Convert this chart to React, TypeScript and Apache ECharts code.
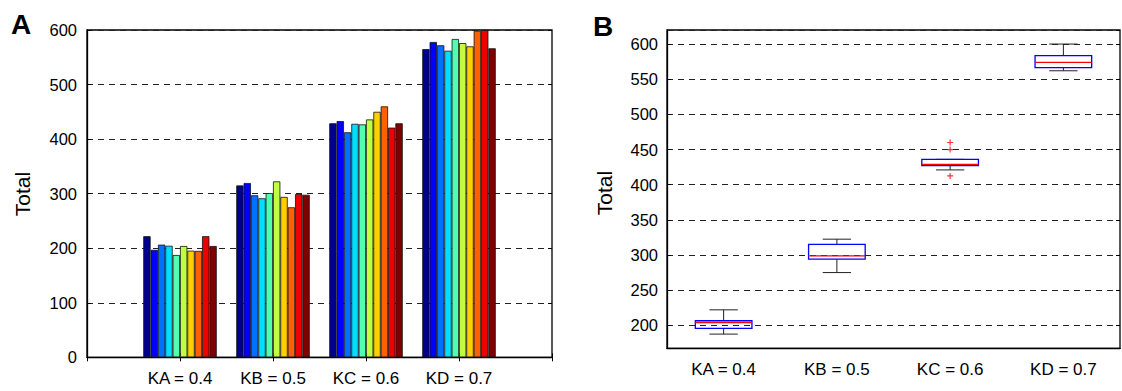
import React, { useEffect, useRef } from "react";
import * as echarts from "echarts";

// ---- data ----
const categories = ["KA = 0.4", "KB = 0.5", "KC = 0.6", "KD = 0.7"];
const KA = [222, 197, 206.5, 204.5, 187.5, 204, 195.5, 195, 222, 204];
const KB = [315, 319.5, 297, 291.5, 301, 322.5, 294, 275, 299.5, 298];
const KC = [429, 433, 412.5, 428, 427, 436, 450, 460, 421, 429];
const KD = [565, 578, 572, 562, 583.5, 576, 570, 598.5, 600, 566.5];
const groups = [KA, KB, KC, KD];
// jet colormap sampled for 10 bars
const barColors = [
  "#00008F", "#0000FF", "#0070FF", "#00DFFF", "#50FFAF",
  "#BFFF40", "#FFCF00", "#FF6000", "#EF0000", "#800000",
];

const FONT = "Liberation Sans, Arial, Helvetica, sans-serif";

// MATLAB-style percentile
function prctile(sorted: number[], p: number): number {
  const n = sorted.length;
  const pos = (n * p) / 100 + 0.5;
  if (pos <= 1) return sorted[0];
  if (pos >= n) return sorted[n - 1];
  const lo = Math.floor(pos);
  const f = pos - lo;
  return sorted[lo - 1] + f * (sorted[lo] - sorted[lo - 1]);
}

function boxStats(vals: number[]) {
  const s = [...vals].sort((a, b) => a - b);
  const q1 = prctile(s, 25);
  const med = prctile(s, 50);
  const q3 = prctile(s, 75);
  const iqr = q3 - q1;
  const lf = q1 - 1.5 * iqr;
  const uf = q3 + 1.5 * iqr;
  const inside = s.filter((v) => v >= lf && v <= uf);
  const outliers = s.filter((v) => v < lf || v > uf);
  return { low: inside[0], q1, med, q3, high: inside[inside.length - 1], outliers };
}

export default function App() {
  const ref = useRef<HTMLDivElement>(null);
  useEffect(() => {
    if (!ref.current) return;
    const chart = echarts.init(ref.current, undefined, { renderer: "svg" });

    const axisDataA = ["", ...categories, ""];
    const barSeries = barColors.map((col, i) => ({
      type: "bar",
      xAxisIndex: 0,
      yAxisIndex: 0,
      barGap: "0%",
      barCategoryGap: "21%",
      data: ["-", ...groups.map((g) => g[i]), "-"],
      itemStyle: { color: col, borderColor: "#111", borderWidth: 0.8 },
      emphasis: { disabled: true },
    }));

    const stats = groups.map(boxStats);
    const boxData = stats.map((s, i) => [i, s.low, s.q1, s.med, s.q3, s.high]);
    const outlierData: number[][] = [];
    stats.forEach((s, i) => s.outliers.forEach((v) => outlierData.push([i, v])));

    const lineStyle = { color: "#000", width: 1.3 };
    const labelStyle = { color: "#000", fontFamily: FONT };

    const option: any = {
      animation: false,
      textStyle: { fontFamily: FONT },
      grid: [
        { left: 87, top: 30, width: 465, height: 327.3, show: true, borderColor: "#000", borderWidth: 1.3, backgroundColor: "transparent" },
        { left: 667, top: 30, width: 453, height: 318.3, show: true, borderColor: "#000", borderWidth: 1.3, backgroundColor: "transparent" },
      ],
      xAxis: [
        {
          gridIndex: 0, type: "category", data: axisDataA, boundaryGap: false, position: "bottom",
          axisLine: { lineStyle },
          axisTick: { inside: true, length: 4, lineStyle: { color: "#000" } },
          axisLabel: { ...labelStyle, fontSize: 17, margin: 13, interval: 0 },
          splitLine: { show: false },
        },
        {
          gridIndex: 0, type: "category", data: axisDataA, boundaryGap: false, position: "top",
          axisLine: { show: false },
          axisTick: { inside: true, length: 4, lineStyle: { color: "#000" } },
          axisLabel: { show: false },
          splitLine: { show: false },
        },
        {
          gridIndex: 1, type: "category", data: categories, boundaryGap: true, position: "bottom",
          axisLine: { lineStyle },
          axisTick: { inside: true, length: 4, alignWithLabel: false, lineStyle: { color: "#000" } },
          axisLabel: { ...labelStyle, fontSize: 17, margin: 13, interval: 0 },
          splitLine: { show: false },
        },
        {
          gridIndex: 1, type: "category", data: categories, boundaryGap: true, position: "bottom",
          axisLine: { show: false },
          axisTick: { inside: true, length: 4, alignWithLabel: true, lineStyle: { color: "#000" } },
          axisLabel: { show: false },
          splitLine: { show: false },
        },
        {
          gridIndex: 1, type: "category", data: categories, boundaryGap: true, position: "top",
          axisLine: { show: false },
          axisTick: { inside: true, length: 4, alignWithLabel: false, lineStyle: { color: "#000" } },
          axisLabel: { show: false },
          splitLine: { show: false },
        },
        {
          gridIndex: 1, type: "category", data: categories, boundaryGap: true, position: "top",
          axisLine: { show: false },
          axisTick: { inside: true, length: 4, alignWithLabel: true, lineStyle: { color: "#000" } },
          axisLabel: { show: false },
          splitLine: { show: false },
        },
      ],
      yAxis: [
        {
          gridIndex: 0, type: "value", min: 0, max: 600, interval: 100, position: "left",
          axisLine: { show: true, lineStyle },
          axisTick: { show: true, inside: true, length: 4, lineStyle: { color: "#000" } },
          axisLabel: { ...labelStyle, fontSize: 16.5, margin: 10 },
          splitLine: { show: true, lineStyle: { color: "#222", width: 1, type: [6, 5] } },
        },
        {
          gridIndex: 0, type: "value", min: 0, max: 600, interval: 100, position: "right",
          axisLine: { show: false },
          axisTick: { show: true, inside: true, length: 4, lineStyle: { color: "#000" } },
          axisLabel: { show: false },
          splitLine: { show: false },
        },
        {
          gridIndex: 1, type: "value", min: 167.3, max: 620, splitNumber: 9, position: "left",
          axisLine: { show: true, lineStyle },
          axisTick: { show: true, inside: true, length: 4, lineStyle: { color: "#000" } },
          axisLabel: { ...labelStyle, fontSize: 16.5, margin: 9, showMinLabel: false, showMaxLabel: false },
          splitLine: { show: true, lineStyle: { color: "#222", width: 1, type: [6, 5] } },
        },
        {
          gridIndex: 1, type: "value", min: 167.3, max: 620, splitNumber: 9, position: "right",
          axisLine: { show: false },
          axisTick: { show: true, inside: true, length: 4, lineStyle: { color: "#000" } },
          axisLabel: { show: false },
          splitLine: { show: false },
        },
      ],
      series: [
        ...barSeries,
        {
          type: "custom",
          xAxisIndex: 2,
          yAxisIndex: 2,
          data: boxData,
          encode: { x: 0, y: [1, 2, 3, 4, 5] },
          renderItem: (params: any, api: any) => {
            const idx = api.value(0);
            const bw = api.size([1, 0])[0];
            const boxW = bw * 0.5;
            const capW = bw * 0.25;
            const pLow = api.coord([idx, api.value(1)]);
            const pQ1 = api.coord([idx, api.value(2)]);
            const pMed = api.coord([idx, api.value(3)]);
            const pQ3 = api.coord([idx, api.value(4)]);
            const pHigh = api.coord([idx, api.value(5)]);
            const x = pLow[0];
            const wStyle = { stroke: "#222", lineWidth: 1, fill: null };
            return {
              type: "group",
              children: [
                { type: "line", shape: { x1: x, y1: pHigh[1], x2: x, y2: pQ3[1] }, style: wStyle },
                { type: "line", shape: { x1: x, y1: pQ1[1], x2: x, y2: pLow[1] }, style: wStyle },
                { type: "line", shape: { x1: x - capW / 2, y1: pHigh[1], x2: x + capW / 2, y2: pHigh[1] }, style: wStyle },
                { type: "line", shape: { x1: x - capW / 2, y1: pLow[1], x2: x + capW / 2, y2: pLow[1] }, style: wStyle },
                {
                  type: "rect",
                  shape: { x: x - boxW / 2, y: pQ3[1], width: boxW, height: pQ1[1] - pQ3[1] },
                  style: { stroke: "#0000FF", lineWidth: 1.3, fill: "rgba(255,255,255,0)" },
                },
                { type: "line", shape: { x1: x - boxW / 2, y1: pMed[1], x2: x + boxW / 2, y2: pMed[1] }, style: { stroke: "#FF0000", lineWidth: 1.3 } },
              ],
            };
          },
        },
        {
          type: "scatter",
          xAxisIndex: 2,
          yAxisIndex: 2,
          data: outlierData,
          symbol: "path://M4,0H6V4H10V6H6V10H4V6H0V4H4Z",
          symbolSize: 6,
          itemStyle: { color: "#FF0000" },
        },
      ],
      graphic: [
        { type: "text", left: 11, top: 10, style: { text: "A", font: `bold 28px ${FONT}`, fill: "#000" } },
        { type: "text", left: 593, top: 12, style: { text: "B", font: `bold 28px ${FONT}`, fill: "#000" } },
        {
          type: "text", x: 22, y: 194, rotation: Math.PI / 2,
          style: { text: "Total", font: `21px ${FONT}`, fill: "#000", align: "center", verticalAlign: "middle" },
        },
        {
          type: "text", x: 604, y: 193, rotation: Math.PI / 2,
          style: { text: "Total", font: `21px ${FONT}`, fill: "#000", align: "center", verticalAlign: "middle" },
        },
      ],
    };

    chart.setOption(option);
    return () => chart.dispose();
  }, []);

  return (
    <div
      ref={ref}
      style={{ position: "absolute", left: 0, top: 0, width: 1122, height: 391, background: "#fff" }}
    />
  );
}
